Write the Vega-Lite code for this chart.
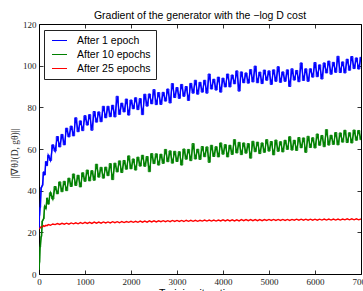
{
  "$schema": "https://vega.github.io/schema/vega-lite/v6.json",
  "width": 322,
  "height": 250,
  "autosize": {"type": "none"},
  "padding": {"left": 39, "top": 24, "right": 2, "bottom": 17},
  "background": "white",
  "title": {"text": "Gradient of the generator with the −log D cost", "font": "Liberation Sans", "fontSize": 10.5, "fontWeight": "normal", "color": "#000", "anchor": "middle", "offset": -1},
  "config": {
    "view": {"stroke": "#000", "strokeWidth": 1},
    "axis": {"grid": false, "domain": false, "tickColor": "#000", "tickWidth": 0.8, "tickSize": -4, "labelFont": "Liberation Serif", "labelFontSize": 9, "labelColor": "#222", "titleFontWeight": "normal"}
  },
  "data": {"values": [
    {"x": 0, "b": 22, "g": 2, "r": 21.5},
    {"x": 10, "b": 28, "g": 5.5, "r": 22.2},
    {"x": 25, "b": 32, "g": 13, "r": 22.1},
    {"x": 50, "b": 41.5, "g": 18, "r": 22.8},
    {"x": 75, "b": 42.5, "g": 25.5, "r": 22.6},
    {"x": 100, "b": 49, "g": 26.5, "r": 23.2},
    {"x": 125, "b": 47.5, "g": 32.5, "r": 22.9},
    {"x": 150, "b": 54, "g": 31.5, "r": 23.4},
    {"x": 175, "b": 52, "g": 36.5, "r": 23.2},
    {"x": 200, "b": 57, "g": 33.5, "r": 23.7},
    {"x": 250, "b": 54.5, "g": 39, "r": 23.4},
    {"x": 300, "b": 62, "g": 36, "r": 24},
    {"x": 350, "b": 59, "g": 42, "r": 23.7},
    {"x": 400, "b": 66, "g": 38.5, "r": 24.2},
    {"x": 450, "b": 61, "g": 44.2, "r": 23.8},
    {"x": 500, "b": 67, "g": 39.5, "r": 24.3},
    {"x": 550, "b": 62, "g": 44.5, "r": 23.9},
    {"x": 600, "b": 70, "g": 40, "r": 24.4},
    {"x": 650, "b": 65.8, "g": 46, "r": 23.9},
    {"x": 700, "b": 71, "g": 42, "r": 24.5},
    {"x": 750, "b": 66.3, "g": 48, "r": 24.1},
    {"x": 800, "b": 75, "g": 42.5, "r": 24.6},
    {"x": 850, "b": 68.3, "g": 47.4, "r": 24.1},
    {"x": 900, "b": 73.5, "g": 41.8, "r": 24.7},
    {"x": 950, "b": 68.8, "g": 48.6, "r": 24.2},
    {"x": 1000, "b": 76, "g": 44.5, "r": 24.8},
    {"x": 1050, "b": 71.5, "g": 49.9, "r": 24.3},
    {"x": 1100, "b": 76.5, "g": 44.7, "r": 24.8},
    {"x": 1150, "b": 69, "g": 49.6, "r": 24.3},
    {"x": 1200, "b": 78, "g": 45, "r": 24.9},
    {"x": 1250, "b": 72.9, "g": 52.7, "r": 24.4},
    {"x": 1300, "b": 77.8, "g": 46.5, "r": 24.9},
    {"x": 1350, "b": 73.1, "g": 51.2, "r": 24.4},
    {"x": 1400, "b": 80.5, "g": 46, "r": 25},
    {"x": 1450, "b": 75, "g": 51.3, "r": 24.5},
    {"x": 1500, "b": 80.5, "g": 47.2, "r": 25},
    {"x": 1550, "b": 75.5, "g": 53, "r": 24.5},
    {"x": 1600, "b": 81, "g": 45.3, "r": 25.1},
    {"x": 1650, "b": 75.4, "g": 53.2, "r": 24.6},
    {"x": 1700, "b": 85.3, "g": 49, "r": 25.1},
    {"x": 1750, "b": 76.6, "g": 54.3, "r": 24.6},
    {"x": 1800, "b": 82, "g": 48.7, "r": 25.2},
    {"x": 1850, "b": 77.8, "g": 54.5, "r": 24.7},
    {"x": 1900, "b": 84, "g": 50.3, "r": 25.2},
    {"x": 1950, "b": 76.3, "g": 56.7, "r": 24.8},
    {"x": 2000, "b": 83.5, "g": 50.5, "r": 25.3},
    {"x": 2050, "b": 79.3, "g": 55.2, "r": 24.8},
    {"x": 2100, "b": 84.6, "g": 49.9, "r": 25.3},
    {"x": 2150, "b": 78.9, "g": 56.1, "r": 24.8},
    {"x": 2200, "b": 84.2, "g": 51.8, "r": 25.4},
    {"x": 2250, "b": 76.5, "g": 57, "r": 24.9},
    {"x": 2300, "b": 86.3, "g": 51.7, "r": 25.4},
    {"x": 2350, "b": 80.6, "g": 56.4, "r": 24.9},
    {"x": 2400, "b": 86.4, "g": 49.1, "r": 25.5},
    {"x": 2450, "b": 81.7, "g": 57.8, "r": 25},
    {"x": 2500, "b": 88.5, "g": 53, "r": 25.5},
    {"x": 2550, "b": 81.3, "g": 57.7, "r": 25},
    {"x": 2600, "b": 87.1, "g": 52.3, "r": 25.5},
    {"x": 2650, "b": 81.4, "g": 57.5, "r": 25.1},
    {"x": 2700, "b": 87.2, "g": 53.1, "r": 25.6},
    {"x": 2750, "b": 83, "g": 59.8, "r": 25.1},
    {"x": 2800, "b": 88.8, "g": 53.9, "r": 25.6},
    {"x": 2850, "b": 82.1, "g": 59.1, "r": 25.1},
    {"x": 2900, "b": 91.4, "g": 53.2, "r": 25.7},
    {"x": 2950, "b": 84.7, "g": 58.9, "r": 25.2},
    {"x": 3000, "b": 89.5, "g": 54, "r": 25.7},
    {"x": 3050, "b": 84.3, "g": 58.7, "r": 25.2},
    {"x": 3100, "b": 91, "g": 52.3, "r": 25.7},
    {"x": 3150, "b": 85.3, "g": 60, "r": 25.2},
    {"x": 3200, "b": 90, "g": 55.1, "r": 25.8},
    {"x": 3250, "b": 83.3, "g": 59.8, "r": 25.3},
    {"x": 3300, "b": 91.5, "g": 54.4, "r": 25.8},
    {"x": 3350, "b": 86.8, "g": 62.6, "r": 25.3},
    {"x": 3400, "b": 93, "g": 55.2, "r": 25.8},
    {"x": 3450, "b": 86.3, "g": 59.9, "r": 25.3},
    {"x": 3500, "b": 92, "g": 55, "r": 25.8},
    {"x": 3550, "b": 87.3, "g": 61.2, "r": 25.4},
    {"x": 3600, "b": 93, "g": 56.3, "r": 25.9},
    {"x": 3650, "b": 86.8, "g": 61, "r": 25.4},
    {"x": 3700, "b": 96, "g": 53.6, "r": 25.9},
    {"x": 3750, "b": 88.8, "g": 61.8, "r": 25.4},
    {"x": 3800, "b": 93.5, "g": 56.4, "r": 25.9},
    {"x": 3850, "b": 88.3, "g": 61.1, "r": 25.4},
    {"x": 3900, "b": 94.5, "g": 56.2, "r": 25.9},
    {"x": 3950, "b": 87.3, "g": 62.9, "r": 25.5},
    {"x": 4000, "b": 94, "g": 57.5, "r": 26},
    {"x": 4050, "b": 89.8, "g": 62.1, "r": 25.5},
    {"x": 4100, "b": 96, "g": 56.2, "r": 26},
    {"x": 4150, "b": 89.8, "g": 61.8, "r": 25.5},
    {"x": 4200, "b": 95.5, "g": 57.4, "r": 26},
    {"x": 4250, "b": 91.3, "g": 64.5, "r": 25.5},
    {"x": 4300, "b": 97.5, "g": 58.1, "r": 26},
    {"x": 4350, "b": 87.8, "g": 63.2, "r": 25.5},
    {"x": 4400, "b": 97, "g": 57.3, "r": 26.1},
    {"x": 4450, "b": 91.8, "g": 62.9, "r": 25.6},
    {"x": 4500, "b": 96.5, "g": 58, "r": 26.1},
    {"x": 4550, "b": 91.6, "g": 62.6, "r": 25.6},
    {"x": 4600, "b": 98.1, "g": 55.6, "r": 26.1},
    {"x": 4650, "b": 92.2, "g": 63.7, "r": 25.6},
    {"x": 4700, "b": 99.8, "g": 58.7, "r": 26.1},
    {"x": 4750, "b": 91.8, "g": 63.3, "r": 25.6},
    {"x": 4800, "b": 96.9, "g": 57.8, "r": 26.1},
    {"x": 4850, "b": 91.4, "g": 62.9, "r": 25.6},
    {"x": 4900, "b": 97.9, "g": 58.4, "r": 26.1},
    {"x": 4950, "b": 93, "g": 64.5, "r": 25.7},
    {"x": 5000, "b": 97.5, "g": 59, "r": 26.2},
    {"x": 5050, "b": 91, "g": 63.6, "r": 25.7},
    {"x": 5100, "b": 98, "g": 57.2, "r": 26.2},
    {"x": 5150, "b": 92.5, "g": 64.3, "r": 25.7},
    {"x": 5200, "b": 99.5, "g": 58.9, "r": 26.2},
    {"x": 5250, "b": 92, "g": 63.5, "r": 25.7},
    {"x": 5300, "b": 97, "g": 58.6, "r": 26.2},
    {"x": 5350, "b": 92.5, "g": 64.2, "r": 25.7},
    {"x": 5400, "b": 98, "g": 59.8, "r": 26.2},
    {"x": 5450, "b": 90, "g": 65.9, "r": 25.7},
    {"x": 5500, "b": 98.5, "g": 59.5, "r": 26.2},
    {"x": 5550, "b": 93.1, "g": 64.2, "r": 25.8},
    {"x": 5600, "b": 97.7, "g": 59.3, "r": 26.3},
    {"x": 5650, "b": 92.3, "g": 65.5, "r": 25.8},
    {"x": 5700, "b": 101.3, "g": 60.6, "r": 26.3},
    {"x": 5750, "b": 92.9, "g": 65.3, "r": 25.8},
    {"x": 5800, "b": 98.5, "g": 58.4, "r": 26.3},
    {"x": 5850, "b": 92.5, "g": 66.1, "r": 25.8},
    {"x": 5900, "b": 98.5, "g": 60.7, "r": 26.3},
    {"x": 5950, "b": 94.5, "g": 65.4, "r": 25.8},
    {"x": 6000, "b": 101.5, "g": 60.5, "r": 26.3},
    {"x": 6050, "b": 94.7, "g": 67.2, "r": 25.8},
    {"x": 6100, "b": 100.4, "g": 61.8, "r": 26.3},
    {"x": 6150, "b": 93.6, "g": 66.5, "r": 25.9},
    {"x": 6200, "b": 101.3, "g": 61.1, "r": 26.4},
    {"x": 6250, "b": 96.5, "g": 69.3, "r": 25.9},
    {"x": 6300, "b": 102.2, "g": 61.9, "r": 26.4},
    {"x": 6350, "b": 95.9, "g": 66.6, "r": 25.9},
    {"x": 6400, "b": 101.6, "g": 62.2, "r": 26.4},
    {"x": 6450, "b": 96.8, "g": 67.9, "r": 25.9},
    {"x": 6500, "b": 104.5, "g": 62, "r": 26.4},
    {"x": 6550, "b": 96.7, "g": 67.7, "r": 25.9},
    {"x": 6600, "b": 101.8, "g": 63.3, "r": 26.4},
    {"x": 6650, "b": 96.5, "g": 69, "r": 26},
    {"x": 6700, "b": 103.1, "g": 63.1, "r": 26.5},
    {"x": 6750, "b": 97.8, "g": 67.8, "r": 26},
    {"x": 6800, "b": 104.4, "g": 62.9, "r": 26.5},
    {"x": 6850, "b": 98.6, "g": 69.1, "r": 26},
    {"x": 6900, "b": 103.7, "g": 64.2, "r": 26.5},
    {"x": 6950, "b": 98.4, "g": 68.9, "r": 26},
    {"x": 7000, "b": 104, "g": 64.5, "r": 26.4}
  ]},
  "transform": [{"fold": ["b", "g", "r"], "as": ["series", "value"]}],
  "resolve": {"axis": {"x": "independent", "y": "independent"}},
  "layer": [
    {
      "mark": {"type": "line", "clip": true, "strokeWidth": 1.4},
      "encoding": {
        "x": {"field": "x", "type": "quantitative", "scale": {"domain": [0, 7000], "nice": false, "zero": false},
              "axis": {"orient": "bottom", "values": [0, 1000, 2000, 3000, 4000, 5000, 6000, 7000], "format": "d", "labelPadding": 7, "labelFlush": false, "title": "Training iterations", "titleFont": "Liberation Sans", "titleFontSize": 10.5, "titleColor": "#000", "titlePadding": 2}},
        "y": {"field": "value", "type": "quantitative", "scale": {"domain": [0, 120], "nice": false},
              "axis": {"orient": "left", "values": [0, 20, 40, 60, 80, 100, 120], "format": "d", "labelPadding": 7, "title": "||∇θJ(D, gθ)||", "titleFont": "Liberation Serif", "titleFontSize": 9.5, "titleColor": "#333", "titlePadding": 3, "titleY": 129}},
        "color": {"field": "series", "type": "nominal",
                  "scale": {"domain": ["b", "g", "r"], "range": ["#0000ff", "#008000", "#ff0000"]},
                  "legend": {"orient": "none", "legendX": 5, "legendY": 6, "title": null,
                             "labelExpr": "datum.label == 'b' ? 'After 1 epoch' : datum.label == 'g' ? 'After 10 epochs' : 'After 25 epochs'",
                             "labelFont": "Liberation Sans", "labelFontSize": 10.5, "labelColor": "#000",
                             "symbolType": "M-0.5,0H2.5", "symbolSize": 100, "symbolStrokeWidth": 1,
                             "labelOffset": 17, "padding": 5, "rowPadding": 3,
                             "strokeColor": "#222", "fillColor": "#fff"}}
      }
    },
    {
      "transform": [{"filter": "datum.series != 'r'"}],
      "mark": {"type": "line", "clip": true, "interpolate": "step", "strokeWidth": 0.9},
      "encoding": {
        "x": {"field": "x", "type": "quantitative", "axis": null},
        "y": {"field": "value", "type": "quantitative", "axis": null},
        "color": {"field": "series", "type": "nominal"}
      }
    },
    {
      "mark": {"type": "point", "opacity": 0},
      "encoding": {
        "x": {"field": "x", "type": "quantitative", "axis": {"orient": "top", "values": [0, 1000, 2000, 3000, 4000, 5000, 6000, 7000], "labels": false, "title": null}},
        "y": {"field": "value", "type": "quantitative", "axis": {"orient": "right", "values": [0, 20, 40, 60, 80, 100, 120], "labels": false, "title": null}}
      }
    }
  ]
}
